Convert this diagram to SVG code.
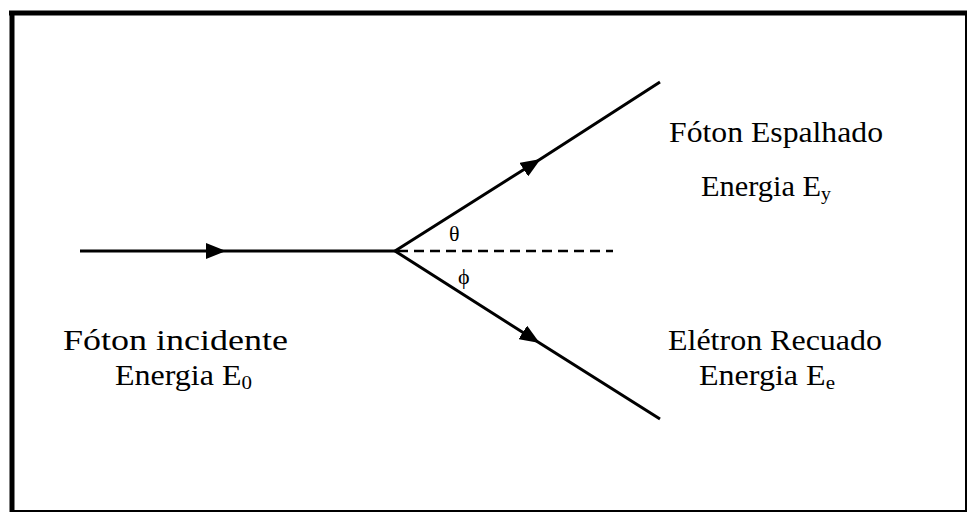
<svg xmlns="http://www.w3.org/2000/svg" width="972" height="515" viewBox="0 0 972 515">
<style>
.t{font-family:"Liberation Serif","Times New Roman",serif;font-size:29px;fill:#000}
.s{font-size:19px}
.g{font-family:"Liberation Serif","Times New Roman",serif;font-size:22px;fill:#000}
.ln{stroke:#000;stroke-width:3;fill:none}
</style>
<defs>
<marker id="ah" viewBox="0 0 20 16" refX="18" refY="8" markerWidth="20" markerHeight="16" markerUnits="userSpaceOnUse" orient="auto">
<path d="M0,0 L20,8 L0,16 Z" fill="#000"/>
</marker>
</defs>
<rect width="972" height="515" fill="#fff"/>
<g id="frame">
<rect x="11" y="12" width="955" height="499" fill="none" stroke="#000" stroke-width="2"/>
<line x1="9" y1="13" x2="967" y2="13" stroke="#000" stroke-width="5"/>
<line x1="12" y1="11" x2="12" y2="512" stroke="#000" stroke-width="5"/>
</g>
<g id="connectors">
<path class="ln" d="M80 251 L224 251 L395 251" marker-mid="url(#ah)"/>
<path class="ln" d="M395 251 L539 160 L660 82" marker-mid="url(#ah)"/>
<path class="ln" d="M395 251 L538 342 L660 419" marker-mid="url(#ah)"/>
<line x1="398" y1="251" x2="613" y2="251" stroke="#000" stroke-width="2.5" stroke-dasharray="10,6"/>
</g>
<g id="theta"><text class="g" x="449" y="241">θ</text></g>
<g id="phi"><text class="g" x="458" y="284">ϕ</text></g>
<g id="incident">
<text class="t" x="63" y="350" textLength="225" lengthAdjust="spacingAndGlyphs">Fóton incidente</text>
<text class="t" x="115" y="385" textLength="137" lengthAdjust="spacingAndGlyphs">Energia E<tspan class="s" dy="4">0</tspan></text>
</g>
<g id="scattered">
<text class="t" x="669" y="142" textLength="214" lengthAdjust="spacingAndGlyphs">Fóton Espalhado</text>
<text class="t" x="701" y="196" textLength="130" lengthAdjust="spacingAndGlyphs">Energia E<tspan class="s" dy="4">y</tspan></text>
</g>
<g id="electron">
<text class="t" x="668" y="350" textLength="214" lengthAdjust="spacingAndGlyphs">Elétron Recuado</text>
<text class="t" x="699" y="385" textLength="136" lengthAdjust="spacingAndGlyphs">Energia E<tspan class="s" dy="4">e</tspan></text>
</g>
</svg>
